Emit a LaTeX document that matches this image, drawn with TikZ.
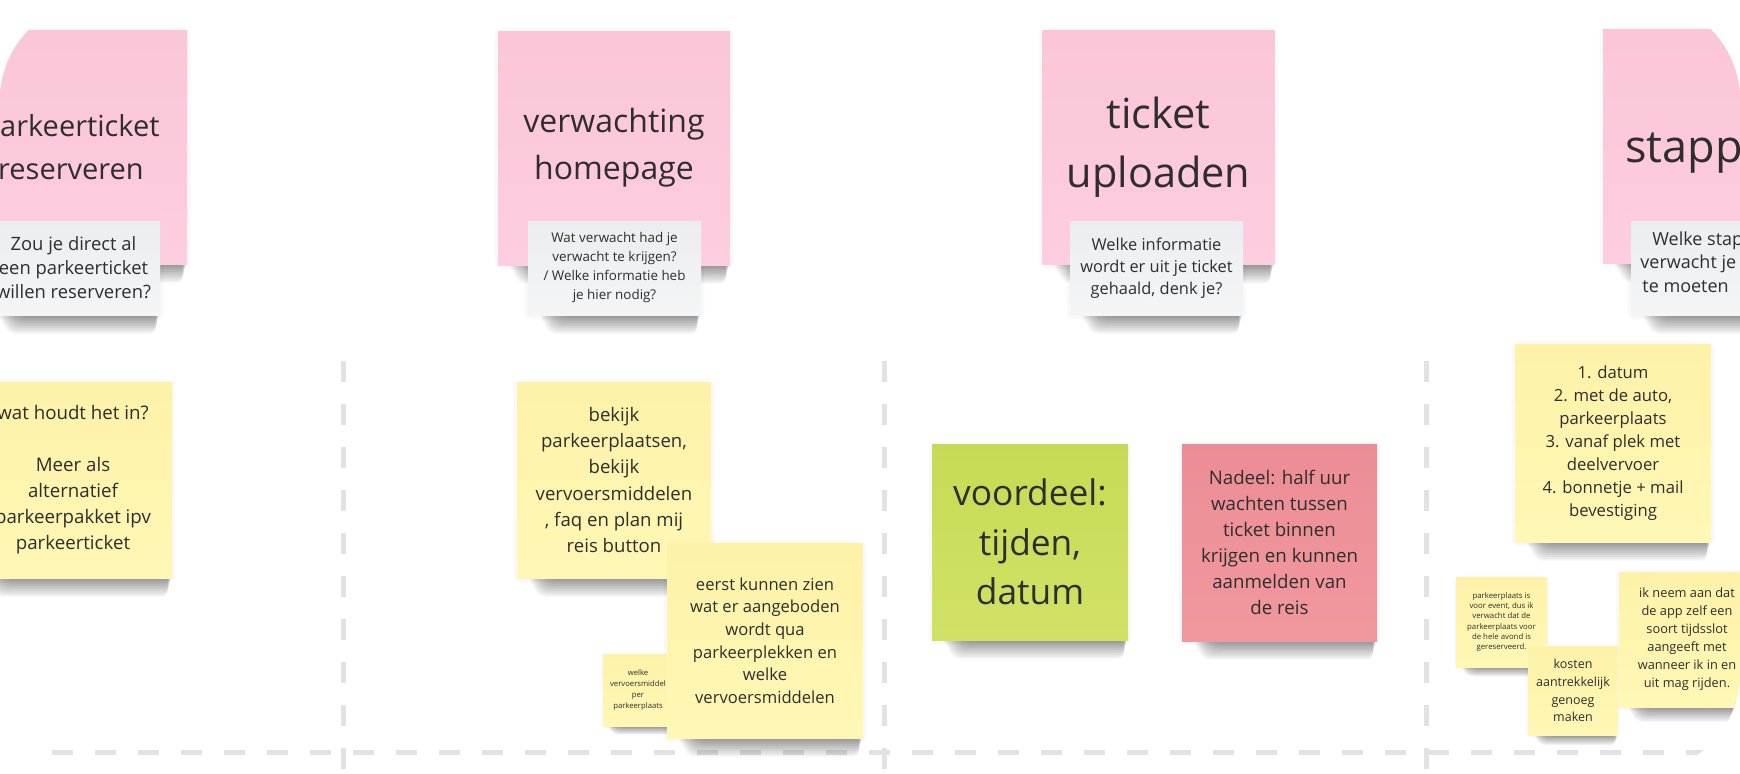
\documentclass[tikz,border=0pt]{standalone}
\usepackage{fontspec}
\setmainfont{Open Sans}
\usetikzlibrary{calc,backgrounds}
\definecolor{pinkN}{HTML}{FFCDE0}
\definecolor{pinkT}{HTML}{FAC6D8}
\definecolor{cardG}{HTML}{F4F5F7}
\definecolor{cardT}{HTML}{ECEDF0}
\definecolor{yelN}{HTML}{FFF7B5}
\definecolor{yelT}{HTML}{FDF2A8}
\definecolor{greenN}{HTML}{D2E166}
\definecolor{greenT}{HTML}{C8DA55}
\definecolor{redN}{HTML}{F1989F}
\definecolor{redT}{HTML}{EC8D96}
\definecolor{ink}{HTML}{2E2E2E}
\definecolor{dashG}{HTML}{E2E2E2}
\newcommand\fs[2]{\fontsize{#1}{#2}\selectfont}
\newcommand\noteshadow[2]{%
  \foreach \k in {0,...,9}{%
    \fill[black,opacity=0.045,rounded corners=3pt]
      ($(#1.south west)+({(22-1.5*\k)*#2},{-6*#2})$) --
      ($(#1.south east)+({-(1+0.4*\k)*#2},{-6*#2})$) --
      ($(#1.south east)+({-(1+0.4*\k)*#2},{(2+1.8*\k)*#2})$) --
      ($(#1.south west)+({(36-1.5*\k)*#2},{(2+1.8*\k)*#2})$) -- cycle;
  }
  \fill[black,opacity=0.025,rounded corners=4pt]
    ($(#1.north west)+({-3*#2},{-2*#2})$) rectangle ($(#1.south east)+({3*#2},{4*#2})$);
  }
\tikzset{
  note/.style={inner sep=0pt, align=center, text=ink},
  pinknote/.style={note, top color=pinkT, bottom color=pinkN, minimum width=116pt, minimum height=117pt},
  card/.style={note, top color=cardT, bottom color=cardG, minimum width=86.5pt, minimum height=47pt},
  yellownote/.style={note, top color=yelT, bottom color=yelN},
  greennote/.style={note, top color=greenT, bottom color=greenN},
  rednote/.style={note, top color=redT, bottom color=redN},
  frag/.style={inner sep=0pt, text=ink, anchor=base west},
  divider/.style={dashG, line width=2.5pt, dash pattern=on 10.5pt off 11pt},
}
\begin{document}
\begin{tikzpicture}[x=0.5pt,y=-0.5pt]
\useasboundingbox (0,0) rectangle (1740,773);
\begin{scope}
\clip[rounded corners=50pt] (0,0) rectangle (1740,773);
% title notes
\node[pinknote, font=\fs{14.5pt}{21.5pt}] (p1) at (71,147) {parkeerticket\\reserveren};
\node[pinknote, font=\fs{16pt}{23.5pt}] (p2) at (614,148) {verwachting\\homepage};
\node[pinknote, font=\fs{20.75pt}{29.5pt}] (p3) at (1158.5,147.5) {ticket\\uploaden};
\node[pinknote] (p4) at (1719,146.5) {};
\node[frag, font=\fs{22.5pt}{27pt}] (p4t) at (1625,162) {stapp};
% question cards
\node[card, font=\fs{9.2pt}{12pt}] (g1) at (73.5,268) {Zou je direct al\\een parkeerticket\\willen reserveren?};
\node[card, font=\fs{6.7pt}{9.5pt}] (g2) at (614.5,268) {Wat verwacht had je\\verwacht te krijgen?\\/ Welke informatie heb\\je hier nodig?};
\node[card, font=\fs{8.2pt}{10.85pt}] (g3) at (1156.5,268) {Welke informatie\\wordt er uit je ticket\\gehaald, denk je?};
\node[card] (g4) at (1717.5,268) {};
\node[frag, font=\fs{9pt}{11.75pt}] (g4a) at (1652,245) {Welke stap};
\node[frag, font=\fs{9pt}{11.75pt}] (g4b) at (1640,268) {verwacht je};
\node[frag, font=\fs{9pt}{11.75pt}] (g4c) at (1642,292) {te moeten};
% column 1
\node[yellownote, minimum width=99pt, minimum height=98pt, font=\fs{9.35pt}{13pt}] (y1) at (73,480)
  {wat houdt het in?\\[13pt]Meer als\\alternatief\\parkeerpakket ipv\\parkeerticket};
% column 2
\node[yellownote, minimum width=97pt, minimum height=98pt, font=\fs{9.3pt}{13.1pt}] (y2) at (614,480)
  {bekijk\\parkeerplaatsen,\\bekijk\\vervoersmiddelen\\, faq en plan mij\\reis button};
\node[yellownote, minimum width=35pt, minimum height=36pt, font=\fs{3.85pt}{5.35pt}] (y4) at (638,690)
  {welke\\vervoersmiddel\\per\\parkeerplaats};
\node[yellownote, minimum width=98pt, minimum height=97.5pt, font=\fs{8.3pt}{11.3pt}] (y3) at (765,640.5)
  {eerst kunnen zien\\wat er aangeboden\\wordt qua\\parkeerplekken en\\welke\\vervoersmiddelen};
% column 3
\node[greennote, minimum width=98pt, minimum height=98pt, font=\fs{17.65pt}{24.75pt}] (gr) at (1030,542)
  {voordeel:\\tijden,\\datum};
\node[rednote, minimum width=97.5pt, minimum height=98.5pt, font=\fs{9.35pt}{13pt}] (rd) at (1279.5,542.5)
  {Nadeel: half uur\\wachten tussen\\ticket binnen\\krijgen en kunnen\\aanmelden van\\de reis};
% column 4
\node[yellownote, minimum width=98pt, minimum height=99pt, font=\fs{8.35pt}{11.5pt}] (y5) at (1613,443)
  {1. datum\\2. met de auto,\\parkeerplaats\\3. vanaf plek met\\deelvervoer\\4. bonnetje + mail\\bevestiging};
\node[yellownote, minimum width=45.5pt, minimum height=45pt, font=\fs{3.9pt}{5.15pt}] (y6) at (1501.5,622)
  {parkeerplaats is\\voor event, dus ik\\verwacht dat de\\parkeerplaats voor\\de hele avond is\\gereserveerd.};
\node[yellownote, minimum width=45pt, minimum height=44.5pt, font=\fs{6.25pt}{8.85pt}] (y7) at (1573,690.5)
  {kosten\\aantrekkelijk\\genoeg\\maken};
\node[yellownote, minimum width=68pt, minimum height=67.5pt, font=\fs{6.4pt}{9pt}] (y8) at (1687,639.5)
  {ik neem aan dat\\de app zelf een\\soort tijdsslot\\aangeeft met\\wanneer ik in en\\uit mag rijden.};
\end{scope}
\begin{scope}[on background layer]
\fill[white] (0,0) rectangle (1740,773);
\clip[rounded corners=50pt] (0,0) rectangle (1740,773);
\coordinate (v1t) at (343,361); \coordinate (v1b) at (343,773);
\coordinate (v2t) at (884,361); \coordinate (v2b) at (884,773);
\coordinate (v3t) at (1426,361); \coordinate (v3b) at (1426,773);
\coordinate (hl) at (52,752); \coordinate (hr) at (1740,752);
\draw[divider] (v1t) -- (v1b);
\draw[divider] (v2t) -- (v2b);
\draw[divider] (v3t) -- (v3b);
\draw[divider] (hl) -- (hr);
\foreach \n in {p1,p2,p3,p4,g1,g2,g3,g4,y1,y2,y3,gr,rd,y5}{\noteshadow{\n}{1}}
\noteshadow{y4}{0.45}
\noteshadow{y6}{0.5}
\noteshadow{y7}{0.55}
\noteshadow{y8}{0.8}
\end{scope}
\end{tikzpicture}
\end{document}
